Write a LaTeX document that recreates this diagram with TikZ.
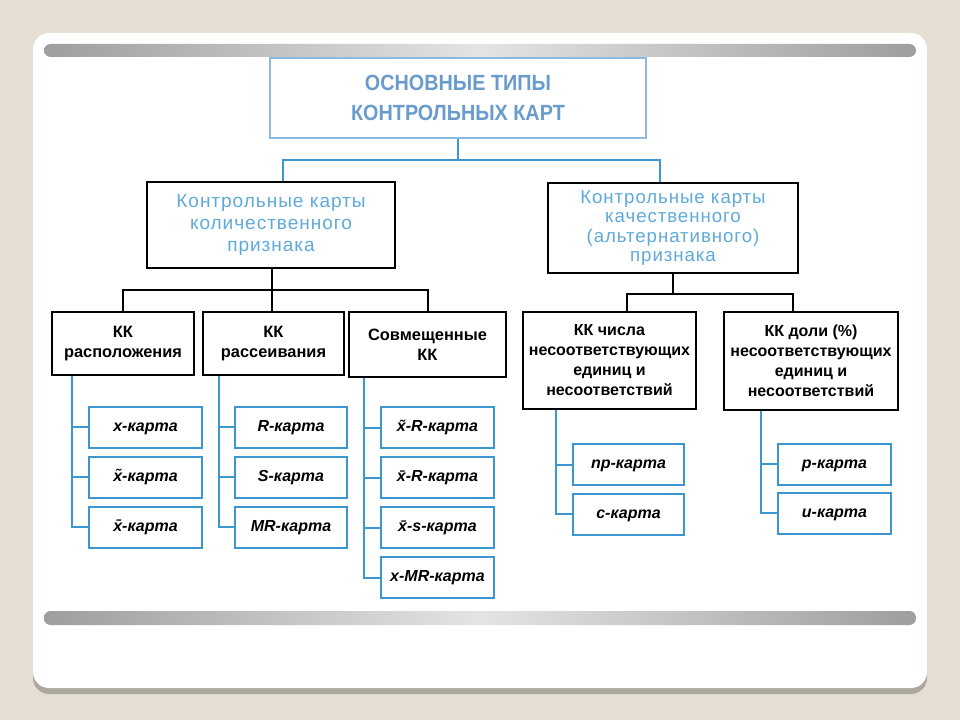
\documentclass[tikz,border=0pt]{standalone}
\usepackage{fontspec}
\setmainfont{Liberation Sans}
\newfontfamily\titlefont[FakeStretch=0.9]{Liberation Sans}
\newfontfamily\groupfont[LetterSpace=5]{Liberation Sans}
\usetikzlibrary{calc}
\definecolor{bgbeige}{RGB}{228,222,211}
\definecolor{panelshadow}{RGB}{172,168,158}
\definecolor{bardark}{RGB}{158,158,158}
\definecolor{barlight}{RGB}{228,228,228}
\definecolor{titleline}{RGB}{140,185,225}
\definecolor{titletext}{RGB}{105,155,205}
\definecolor{grouptext}{RGB}{95,170,218}
\definecolor{chartline}{RGB}{60,150,210}
\begin{document}
\begin{tikzpicture}[x=0.75pt, y=-0.75pt,
    titlebox/.style={draw=titleline, line width=1.5pt, fill=white, align=center, inner sep=0pt,
        minimum width=282pt, minimum height=60pt, text=titletext,
        font=\titlefont\bfseries\fontsize{16.5}{22}\selectfont},
    groupbox/.style={draw=black, line width=1.5pt, align=center, inner sep=0pt, text=grouptext},
    kindbox/.style={draw=black, line width=1.5pt, align=center, inner sep=0pt,
        font=\bfseries\fontsize{12.3}{15}\selectfont},
    chartbox/.style={draw=chartline, line width=1.5pt, inner sep=0pt,
        minimum width=84.75pt, minimum height=30.75pt, text height=8.5pt, text depth=2.5pt,
        font=\bfseries\itshape\fontsize{12}{14}\selectfont},
    blueline/.style={draw=chartline, line width=1.5pt},
    blackline/.style={draw=black, line width=1.5pt}]
    \useasboundingbox (0,0) rectangle (960,720);
        \fill[bgbeige] (0,0) rectangle (960,720);
        \fill[panelshadow, rounded corners=12] (33,40) rectangle (927,694);
        \fill[white, rounded corners=12] (33,33) rectangle (927,688);
        \shade[left color=bardark, right color=bardark, middle color=barlight, rounded corners=5] (44,44) rectangle (916,57);
        \shade[left color=bardark, right color=bardark, middle color=barlight, rounded corners=5] (44,611) rectangle (916,625);
        %
        \node[titlebox] (title) at (458,98) {ОСНОВНЫЕ ТИПЫ\\КОНТРОЛЬНЫХ КАРТ};
        \node[groupbox, minimum width=186pt, minimum height=64.5pt,
            font=\groupfont\fontsize{14.3}{16.5}\selectfont] (quant) at (271,225)
            {Контрольные карты\\количественного\\признака};
        \node[groupbox, minimum width=187.5pt, minimum height=67.5pt,
            font=\groupfont\fontsize{14}{14.3}\selectfont] (qual) at (673,228)
            {Контрольные карты\\качественного\\(альтернативного)\\признака};
        \node[kindbox, minimum width=106.5pt, minimum height=47.25pt] (place) at (123,343.5) {КК\\расположения};
        \node[kindbox, minimum width=105.75pt, minimum height=47.25pt] (spread) at (273.5,343.5) {КК\\рассеивания};
        \node[kindbox, minimum width=117.75pt, minimum height=48.75pt] (joint) at (427.5,344.5) {Совмещенные\\КК};
        \node[kindbox, minimum width=129.75pt, minimum height=72.75pt, font=\bfseries\fontsize{12}{15}\selectfont]
            (count) at (609.5,360.5) {КК числа\\несоответствующих\\единиц и\\несоответствий};
        \node[kindbox, minimum width=130.5pt, minimum height=73.5pt, font=\bfseries\fontsize{12}{15}\selectfont]
            (share) at (811,361) {КК доли (\%)\\несоответствующих\\единиц и\\несоответствий};
        %
        \foreach \n/\y/\t in {placeA/427/x-карта, placeB/477/\~{x}-карта, placeC/527/\={x}-карта}
            \node[chartbox] (\n) at (145.5,\y) {\t};
        \foreach \n/\y/\t in {spreadA/427/R-карта, spreadB/477/S-карта, spreadC/527/MR-карта}
            \node[chartbox, minimum width=84pt] (\n) at (291,\y) {\t};
        \foreach \n/\y/\t in {jointA/427.5/\~{x}-R-карта, jointB/477.5/\={x}-R-карта,
                jointC/527.5/\={x}-s-карта, jointD/577.5/x-MR-карта}
            \node[chartbox] (\n) at (437.5,\y) {\t};
        \foreach \n/\y/\t in {countA/464.5/np-карта, countB/514/c-карта}
            \node[chartbox, minimum width=83.25pt] (\n) at (628.5,\y) {\t};
        \foreach \n/\y/\t in {shareA/464/p-карта, shareB/513/u-карта}
            \node[chartbox] (\n) at (834.5,\y) {\t};
        %
        \coordinate (tl) at (283,160);
        \coordinate (tr) at (660,160);
        \draw[blueline] (title.south) -- (title.south |- tl);
        \draw[blueline] (tl |- quant.north) -- (tl) -- (tr) -- (tr |- qual.north);
        \coordinate (qj) at (272,290);
        \draw[blackline] (quant.south -| qj) -- (qj);
        \draw[blackline] (place.north) |- (qj) -| (joint.north);
        \draw[blackline] (spread.north -| qj) -- (qj);
        \coordinate (cl) at (627,294);
        \coordinate (cr) at (793,294);
        \draw[blackline] (qual.south) -- (qual.south |- cl);
        \draw[blackline] (cl |- count.north) -- (cl) -- (cr) -- (cr |- share.north);
        %
        \coordinate (placeT) at ($(place.south west)+(21,0)$);
        \coordinate (spreadT) at ($(spread.south west)+(17,0)$);
        \coordinate (jointT) at ($(joint.south west)+(16,0)$);
        \coordinate (countT) at ($(count.south west)+(34,0)$);
        \coordinate (shareT) at ($(share.south west)+(38,0)$);
        \foreach \n in {placeA,placeB,placeC} \draw[blueline] (placeT) |- (\n.west);
        \foreach \n in {spreadA,spreadB,spreadC} \draw[blueline] (spreadT) |- (\n.west);
        \foreach \n in {jointA,jointB,jointC,jointD} \draw[blueline] (jointT) |- (\n.west);
        \foreach \n in {countA,countB} \draw[blueline] (countT) |- (\n.west);
        \foreach \n in {shareA,shareB} \draw[blueline] (shareT) |- (\n.west);
    \end{tikzpicture}
\end{document}
